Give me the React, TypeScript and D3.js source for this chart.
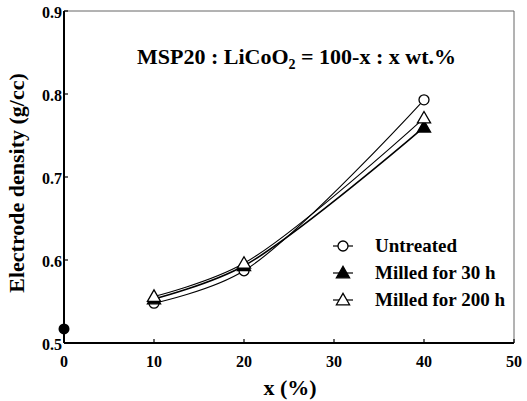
import React from "react";
import * as d3 from "d3";

const xs = [10, 20, 40];
const untreated = [0.548, 0.587, 0.793];
const milled30 = [0.553, 0.593, 0.76];
const milled200 = [0.556, 0.596, 0.771];
const bareX = [0];
const bareY = [0.517];
const xTicks = [0, 10, 20, 30, 40, 50];
const yTicks = [0.5, 0.6, 0.7, 0.8, 0.9];
const legendLabels = ["Untreated", "Milled for 30 h", "Milled for 200 h"];

const W = 527;
const H = 401;
const FONT = "'Liberation Serif', 'DejaVu Serif', serif";

const App = () => {
  const x = d3.scaleLinear().domain([0, 50]).range([64, 514]);
  const y = d3.scaleLinear().domain([0.5, 0.9]).range([343, 11]);

  const line = d3
    .line<[number, number]>()
    .x((d) => x(d[0]))
    .y((d) => y(d[1]))
    .curve(d3.curveCatmullRom.alpha(0.5));

  const pts = (vals: number[]) => xs.map((v, i) => [v, vals[i]] as [number, number]);

  const tri = d3.symbol().type(d3.symbolTriangle).size(75);

  const marker = (kind: number, cx: number, cy: number, key: string) => {
    if (kind === 0)
      return <circle key={key} cx={cx} cy={cy} r={5} fill="#fff" stroke="#000" strokeWidth={1.3} />;
    return (
      <path
        key={key}
        d={tri() as string}
        transform={`translate(${cx},${cy + 1})`}
        fill={kind === 1 ? "#000" : "#fff"}
        stroke="#000"
        strokeWidth={1.3}
      />
    );
  };

  const series = [untreated, milled30, milled200];

  return (
    <svg width={W} height={H} style={{ position: "absolute", left: 0, top: 0, background: "#fff" }}>
      <rect x={0} y={0} width={W} height={H} fill="#fff" />
      {/* frame */}
      <line x1={x(50)} x2={x(0)} y1={y(0.9)} y2={y(0.9)} stroke="#666" strokeWidth={1} />
      <line x1={x(50)} x2={x(50)} y1={y(0.9)} y2={y(0.5)} stroke="#666" strokeWidth={1} />
      <line x1={x(0)} x2={x(50)} y1={y(0.5)} y2={y(0.5)} stroke="#000" strokeWidth={2} />
      <line x1={x(0)} x2={x(0)} y1={y(0.9)} y2={y(0.5)} stroke="#000" strokeWidth={2} />

      {xTicks.map((t) => (
        <g key={"xt" + t}>
          <line x1={x(t)} x2={x(t)} y1={y(0.5)} y2={y(0.5) - 4} stroke="#000" strokeWidth={1.2} />
          <text
            x={x(t)}
            y={367}
            textAnchor="middle"
            fontFamily={FONT}
            fontWeight="bold"
            fontSize={16}
          >
            {t}
          </text>
        </g>
      ))}
      {yTicks.map((t) => (
        <g key={"yt" + t}>
          <line x1={x(0)} x2={x(0) + 4} y1={y(t)} y2={y(t)} stroke="#000" strokeWidth={1.2} />
          <text
            x={x(0) - 2}
            y={y(t) + 7}
            textAnchor="end"
            fontFamily={FONT}
            fontWeight="bold"
            fontSize={16}
          >
            {t.toFixed(1)}
          </text>
        </g>
      ))}

      <text
        x={290}
        y={395}
        textAnchor="middle"
        fontFamily={FONT}
        fontWeight="bold"
        fontSize={22}
      >
        x (%)
      </text>
      <text
        transform={`translate(24,${y(0.7) + 6}) rotate(-90)`}
        textAnchor="middle"
        fontFamily={FONT}
        fontWeight="bold"
        fontSize={22}
      >
        Electrode density (g/cc)
      </text>

      <text x={137} y={64} fontFamily={FONT} fontWeight="bold" fontSize={22}>
        MSP20 : LiCoO
        <tspan dy={5} fontSize={14}>2</tspan>
        <tspan dy={-5}> = 100-x : x wt.%</tspan>
      </text>

      {series.map((s, i) => (
        <path
          key={"l" + i}
          d={line(pts(s)) as string}
          fill="none"
          stroke="#000"
          strokeWidth={i === 1 ? 1.6 : 1.1}
        />
      ))}
      {series.map((s, i) => xs.map((v, j) => marker(i, x(v), y(s[j]), `m${i}-${j}`)))}

      {bareX.map((v, i) => (
        <circle key={"b" + i} cx={x(v)} cy={y(bareY[i])} r={5.5} fill="#000" />
      ))}

      {legendLabels.map((lab, i) => {
        const ly = 246 + i * 27;
        return (
          <g key={"lg" + i}>
            <line x1={333} x2={353} y1={ly} y2={ly} stroke="#000" strokeWidth={1.2} />
            {marker(i, 343, ly, "lm" + i)}
            <text x={375} y={ly + 6} fontFamily={FONT} fontWeight="bold" fontSize={19}>
              {lab}
            </text>
          </g>
        );
      })}
    </svg>
  );
};

export default App;
